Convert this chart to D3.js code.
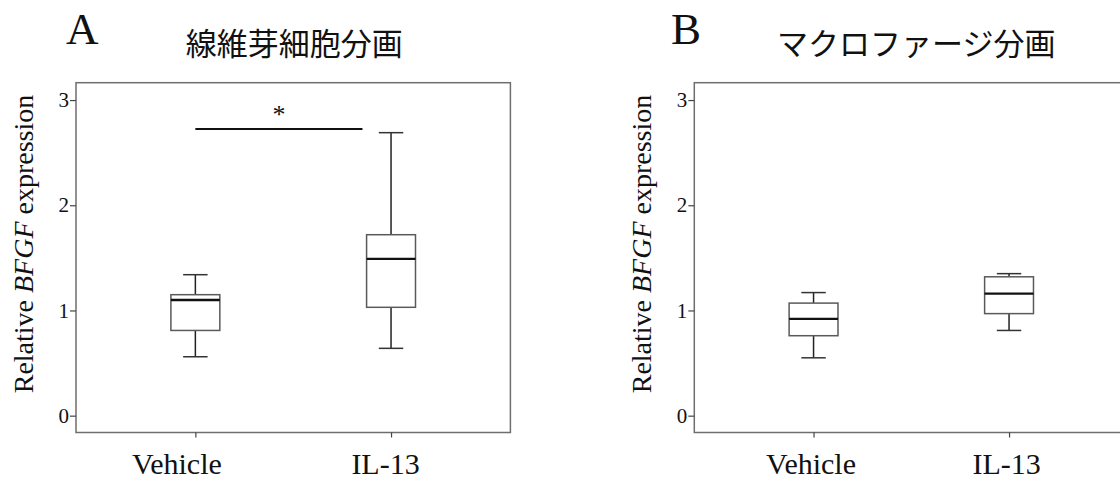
<!DOCTYPE html>
<html>
<head>
<meta charset="utf-8">
<script src="https://cdn.jsdelivr.net/npm/d3@7"></script>
<style>
  body { margin: 0; background: #fff; }
  svg { display: block; }
</style>
</head>
<body>
<div id="root"></div>
<script>
// groups and tick labels
const groups = ["Vehicle", "IL-13"];
const yTicks = [0, 1, 2, 3];

// 線維芽細胞分画 (fibroblast fraction) box stats
const fibroMin = [0.56, 0.64];
const fibroQ1 = [0.81, 1.03];
const fibroMed = [1.10, 1.49];
const fibroQ3 = [1.15, 1.72];
const fibroMax = [1.34, 2.69];

// マクロファージ分画 (macrophage fraction) box stats
const macroMin = [0.55, 0.81];
const macroQ1 = [0.76, 0.97];
const macroMed = [0.92, 1.16];
const macroQ3 = [1.07, 1.32];
const macroMax = [1.17, 1.35];

// significance bar (panel A only)
const sigLevel = 2.725;
const sigLabel = "*";

const W = 1120, H = 489;
const serif = "'Liberation Serif', 'Times New Roman', serif";
const cjk = "'Noto Sans CJK JP', 'Noto Sans CJK SC', sans-serif";

const svg = d3.select("#root").append("svg")
    .attr("width", W)
    .attr("height", H);

function makeBoxes(mins, q1s, meds, q3s, maxs) {
    return groups.map((g, i) => ({
        group: g, min: mins[i], q1: q1s[i], med: meds[i], q3: q3s[i], max: maxs[i]
    }));
}

function drawPanel(con) {
    const g = svg.append("g");

    const x = d3.scalePoint()
        .domain(groups)
        .range([con.left, con.right])
        .padding(0.61);

    const y = d3.scaleLinear()
        .domain([-0.16, 3.165])
        .range([432.5, 82.7]);

    const step = x.step();
    const boxW = step * 0.25;
    const capW = step * 0.125;

    // panel letter and title
    g.append("text")
        .attr("x", con.letterX)
        .attr("y", 44)
        .text(con.letter)
        .style("font-family", serif)
        .style("font-size", "45px")
        .attr("fill", "#111");

    g.append("text")
        .attr("x", (con.left + con.right) / 2 + con.titleDx)
        .attr("y", 55)
        .attr("text-anchor", "middle")
        .text(con.title)
        .style("font-family", cjk)
        .style("font-size", "31px")
        .attr("fill", "#111");

    // frame
    g.append("rect")
        .attr("x", con.left)
        .attr("y", y.range()[1])
        .attr("width", con.right - con.left)
        .attr("height", y.range()[0] - y.range()[1])
        .attr("fill", "none")
        .attr("stroke", "#6e6e6e")
        .attr("stroke-width", 1.5);

    // y axis
    const yAxis = g.append("g")
        .attr("transform", `translate(${con.left}, 0)`)
        .call(d3.axisLeft(y).tickValues(yTicks).tickSize(6).tickPadding(1).tickFormat(d3.format("d")));
    yAxis.select(".domain").remove();
    yAxis.selectAll(".tick line").attr("stroke", "#444").attr("stroke-width", 1.2);
    yAxis.selectAll(".tick text")
        .style("font-family", serif)
        .style("font-size", "21px")
        .attr("fill", "#111");

    // x axis
    const xAxis = g.append("g")
        .attr("transform", `translate(0, ${y.range()[0]})`)
        .call(d3.axisBottom(x).tickSize(5).tickPadding(15));
    xAxis.select(".domain").remove();
    xAxis.selectAll(".tick line").attr("stroke", "#444").attr("stroke-width", 1.2);
    xAxis.selectAll(".tick text")
        .attr("dx", (d, i) => con.labelDx[i])
        .style("font-family", serif)
        .style("font-size", "30px")
        .attr("fill", "#111");

    // y label
    const yl = g.append("text")
        .attr("transform", `translate(${con.left - 43}, 244) rotate(-90)`)
        .attr("text-anchor", "middle")
        .style("font-family", serif)
        .style("font-size", "28px")
        .attr("fill", "#111");
    yl.append("tspan").text("Relative ");
    yl.append("tspan").style("font-style", "italic").text("BFGF");
    yl.append("tspan").text(" expression");

    // boxes
    const bx = g.selectAll(".box")
        .data(con.boxes)
        .enter()
        .append("g")
        .attr("class", "box");

    bx.append("line")
        .attr("x1", d => x(d.group)).attr("x2", d => x(d.group))
        .attr("y1", d => y(d.max)).attr("y2", d => y(d.q3))
        .attr("stroke", "#222").attr("stroke-width", 1.5);
    bx.append("line")
        .attr("x1", d => x(d.group)).attr("x2", d => x(d.group))
        .attr("y1", d => y(d.q1)).attr("y2", d => y(d.min))
        .attr("stroke", "#222").attr("stroke-width", 1.5);
    bx.append("line")
        .attr("x1", d => x(d.group) - capW / 2).attr("x2", d => x(d.group) + capW / 2)
        .attr("y1", d => y(d.max)).attr("y2", d => y(d.max))
        .attr("stroke", "#333").attr("stroke-width", 1.5);
    bx.append("line")
        .attr("x1", d => x(d.group) - capW / 2).attr("x2", d => x(d.group) + capW / 2)
        .attr("y1", d => y(d.min)).attr("y2", d => y(d.min))
        .attr("stroke", "#333").attr("stroke-width", 1.5);
    bx.append("rect")
        .attr("x", d => x(d.group) - boxW / 2)
        .attr("y", d => y(d.q3))
        .attr("width", boxW)
        .attr("height", d => y(d.q1) - y(d.q3))
        .attr("fill", "#fff")
        .attr("stroke", "#5a5a5a")
        .attr("stroke-width", 1.5);
    bx.append("line")
        .attr("x1", d => x(d.group) - boxW / 2).attr("x2", d => x(d.group) + boxW / 2)
        .attr("y1", d => y(d.med)).attr("y2", d => y(d.med))
        .attr("stroke", "#111").attr("stroke-width", 2.4);

    // significance
    if (con.sig) {
        const x1 = x(groups[0]);
        const x2 = x(groups[1]) - step * 0.146;
        g.append("line")
            .attr("x1", x1).attr("x2", x2)
            .attr("y1", y(sigLevel)).attr("y2", y(sigLevel))
            .attr("stroke", "#111").attr("stroke-width", 2);
        g.append("text")
            .attr("x", (x1 + x2) / 2)
            .attr("y", y(sigLevel) - 6)
            .attr("text-anchor", "middle")
            .text(sigLabel)
            .style("font-family", serif)
            .style("font-size", "26px")
            .attr("fill", "#111");
    }
}

drawPanel({
    letter: "A", letterX: 66,
    title: "線維芽細胞分画", titleDx: 1,
    left: 76, right: 510.4,
    labelDx: [-19, -6],
    boxes: makeBoxes(fibroMin, fibroQ1, fibroMed, fibroQ3, fibroMax),
    sig: true
});

drawPanel({
    letter: "B", letterX: 671,
    title: "マクロファージ分画", titleDx: 5,
    left: 694.3, right: 1128.3,
    labelDx: [-3, -3],
    boxes: makeBoxes(macroMin, macroQ1, macroMed, macroQ3, macroMax),
    sig: false
});
</script>
</body>
</html>
